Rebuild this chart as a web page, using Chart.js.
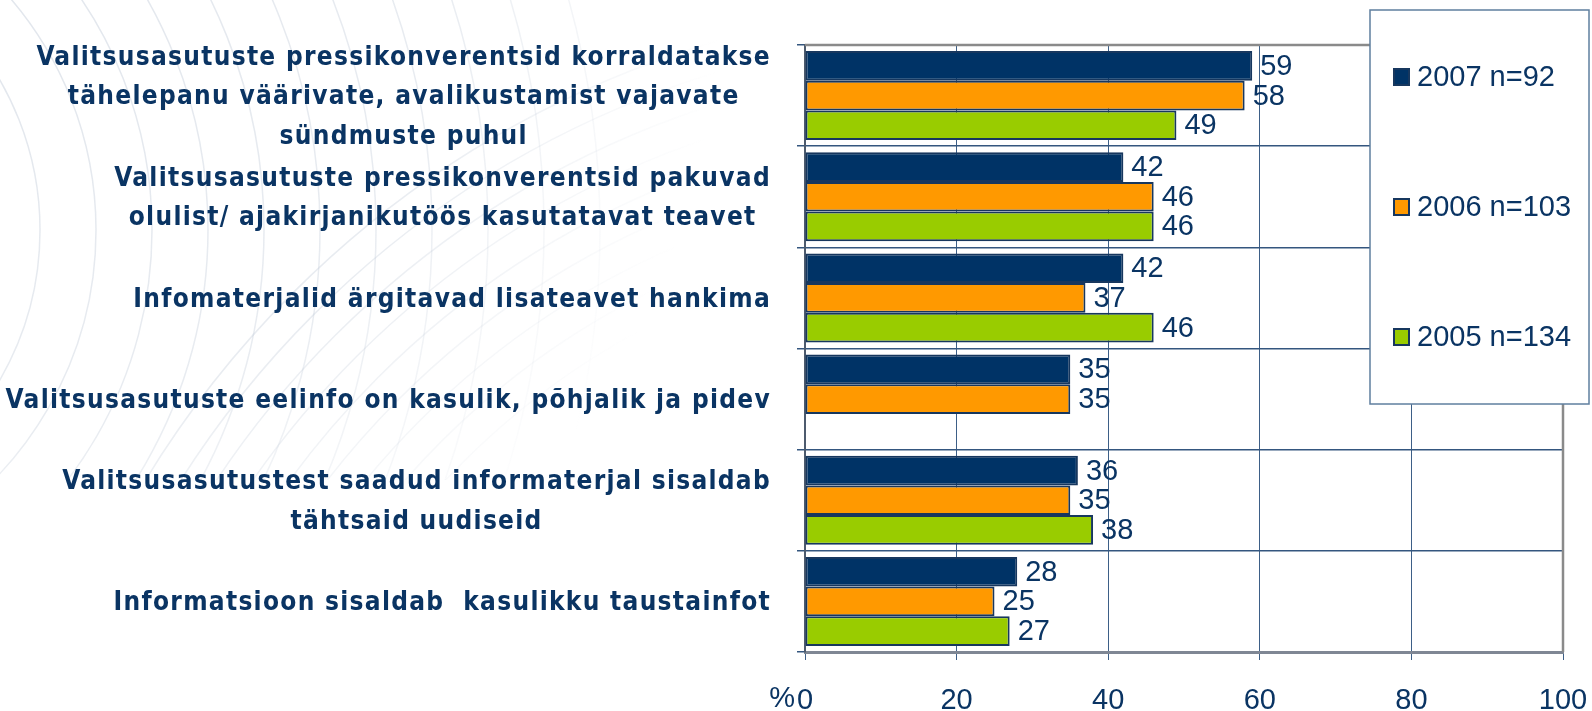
<!DOCTYPE html>
<html>
<head>
<meta charset="utf-8">
<script src="https://cdn.jsdelivr.net/npm/chart.js@4/dist/chart.umd.min.js"></script>
<style>
  html, body { margin: 0; padding: 0; background: #fff; }
  #wrap { width: 1592px; height: 711px; position: relative; }
</style>
</head>
<body>
<div id="wrap"><canvas id="myChart" width="1592" height="711"></canvas></div>
<script>
const categories = [
  ["Valitsusasutuste pressikonverentsid korraldatakse", "tähelepanu väärivate, avalikustamist vajavate", "sündmuste puhul"],
  ["Valitsusasutuste pressikonverentsid pakuvad", "olulist/ ajakirjanikutöös kasutatavat teavet"],
  ["Infomaterjalid ärgitavad lisateavet hankima"],
  ["Valitsusasutuste eelinfo on kasulik, põhjalik ja pidev"],
  ["Valitsusasutustest saadud informaterjal sisaldab", "tähtsaid uudiseid"],
  ["Informatsioon sisaldab  kasulikku taustainfot"]
];
const seriesNames = ["2007 n=92", "2006 n=103", "2005 n=134"];
const values2007 = [59, 42, 42, 35, 36, 28];
const values2006 = [58, 46, 37, 35, 35, 25];
const values2005 = [49, 46, 46, null, 38, 27];
const xTicks = [0, 20, 40, 60, 80, 100];
const axisUnit = "%";

const textColor = "#0a3463";
const barColors = ["#003366", "#ff9900", "#99cc00"];

// faint globe lines behind the labels
const backdrop = {
  id: "backdrop",
  beforeDraw(chart) {
    const c = chart.ctx;
    c.save();
    c.beginPath();
    c.rect(0, 0, 790, 480);
    c.clip();
    const g = c.createRadialGradient(0, 0, 0, 0, 0, 720);
    g.addColorStop(0, "rgba(190,200,214,0.45)");
    g.addColorStop(0.6, "rgba(190,200,214,0.35)");
    g.addColorStop(1, "rgba(190,200,214,0)");
    c.strokeStyle = g;
    c.lineWidth = 1.5;
    // curved "meridians" bowing to the right
    for (let r = 300; r <= 860; r += 56) {
      c.beginPath();
      c.arc(-260, 230, r, -Math.PI / 2, Math.PI / 3);
      c.stroke();
    }
    // sweeping lines going up to the right
    for (let r = 760; r <= 1000; r += 30) {
      c.beginPath();
      c.arc(1000, 1000, r, Math.PI, Math.PI * 1.5);
      c.stroke();
    }
    c.restore();
  }
};

// category labels: right aligned blocks, lines centered inside block
const catLabels = {
  id: "catLabels",
  afterDraw(chart) {
    const c = chart.ctx;
    const y = chart.scales.y;
    c.save();
    c.font = "bold 26px 'DejaVu Sans Condensed', 'Liberation Sans Narrow', sans-serif";
    c.letterSpacing = "1.3px";
    c.fillStyle = textColor;
    c.textAlign = "center";
    c.textBaseline = "middle";
    const lh = 39.5;
    const rightEdge = 771;
    categories.forEach((lines, i) => {
      const cy = y.getPixelForTick(i);
      const w = Math.max(...lines.map(l => c.measureText(l).width));
      const cx = rightEdge - w / 2;
      const y0 = cy - (lines.length - 1) * lh / 2;
      lines.forEach((l, j) => c.fillText(l, cx, y0 + j * lh + 2));
    });
    c.restore();
  }
};

// values at bar ends, frame, % sign, legend box
const extras = {
  id: "extras",
  afterDatasetsDraw(chart) {
    const c = chart.ctx;
    c.save();
    c.font = "29px 'Liberation Sans', sans-serif";
    c.fillStyle = textColor;
    c.textAlign = "left";
    c.textBaseline = "middle";
    chart.data.datasets.forEach((ds, di) => {
      const meta = chart.getDatasetMeta(di);
      meta.data.forEach((bar, i) => {
        if (ds.data[i] == null) return;
        c.fillText(ds.data[i], bar.x + 8, bar.y + 1);
      });
    });
    c.restore();
  },
  afterDraw(chart) {
    const c = chart.ctx;
    const a = chart.chartArea;
    const x = chart.scales.x;
    c.save();
    // grey top / right frame
    c.strokeStyle = "#8a8a8a";
    c.lineWidth = 2.5;
    c.beginPath();
    c.moveTo(a.left, a.top);
    c.lineTo(a.right, a.top);
    c.lineTo(a.right, a.bottom);
    c.stroke();
    // unit sign
    c.font = "29px 'Liberation Sans', sans-serif";
    c.fillStyle = textColor;
    c.textAlign = "right";
    c.textBaseline = "middle";
    c.fillText(axisUnit, x.getPixelForValue(0) - 10, 699);
    // legend
    c.fillStyle = "#fff";
    c.fillRect(1370, 10, 219, 394);
    c.strokeStyle = "#5f7f9f";
    c.lineWidth = 1.5;
    c.strokeRect(1370, 10, 219, 394);
    c.textAlign = "left";
    chart.data.datasets.forEach((ds, i) => {
      const cy = 77 + i * 130;
      c.fillStyle = ds.backgroundColor;
      c.fillRect(1394, cy - 8, 15, 16);
      c.strokeStyle = "#17375e";
      c.lineWidth = 2;
      c.strokeRect(1394, cy - 8, 15, 16);
      c.fillStyle = textColor;
      c.fillText(ds.label, 1417, cy + 1);
    });
    c.restore();
  }
};

const ctx = document.getElementById("myChart").getContext("2d");
const myChart = new Chart(ctx, {
  type: "bar",
  data: {
    labels: categories,
    datasets: [
      { label: seriesNames[0], data: values2007, backgroundColor: barColors[0] },
      { label: seriesNames[1], data: values2006, backgroundColor: barColors[1] },
      { label: seriesNames[2], data: values2005, backgroundColor: barColors[2] }
    ]
  },
  options: {
    indexAxis: "y",
    responsive: false,
    animation: false,
    layout: { padding: { top: 45, right: 29, left: 0, bottom: 0 } },
    datasets: {
      bar: {
        categoryPercentage: 0.88,
        barPercentage: 1,
        borderColor: "#17375e",
        borderWidth: 2,
        borderSkipped: false
      }
    },
    plugins: {
      legend: { display: false },
      tooltip: { enabled: false }
    },
    scales: {
      x: {
        min: 0,
        max: 100,
        afterBuildTicks: s => { s.ticks = xTicks.map(v => ({ value: v })); },
        afterFit: s => {
          s.height = 59;
          s.paddingRight = 20;
          s.paddingLeft = 20;
        },
        border: { color: "#7f8794", width: 3 },
        grid: {
          color: "#3d5f87",
          lineWidth: 1,
          tickLength: 8,
          tickColor: "#3d5f87"
        },
        ticks: {
          color: textColor,
          padding: 24,
          font: { size: 29, family: "'Liberation Sans', sans-serif" }
        }
      },
      y: {
        afterFit: s => { s.width = 805; },
        border: { color: "#4d5b6e", width: 2 },
        grid: {
          offset: true,
          color: "#34567f",
          lineWidth: 1.5,
          tickLength: 8,
          tickColor: "#34567f"
        },
        ticks: { display: false }
      }
    }
  },
  plugins: [backdrop, catLabels, extras]
});
</script>
</body>
</html>
